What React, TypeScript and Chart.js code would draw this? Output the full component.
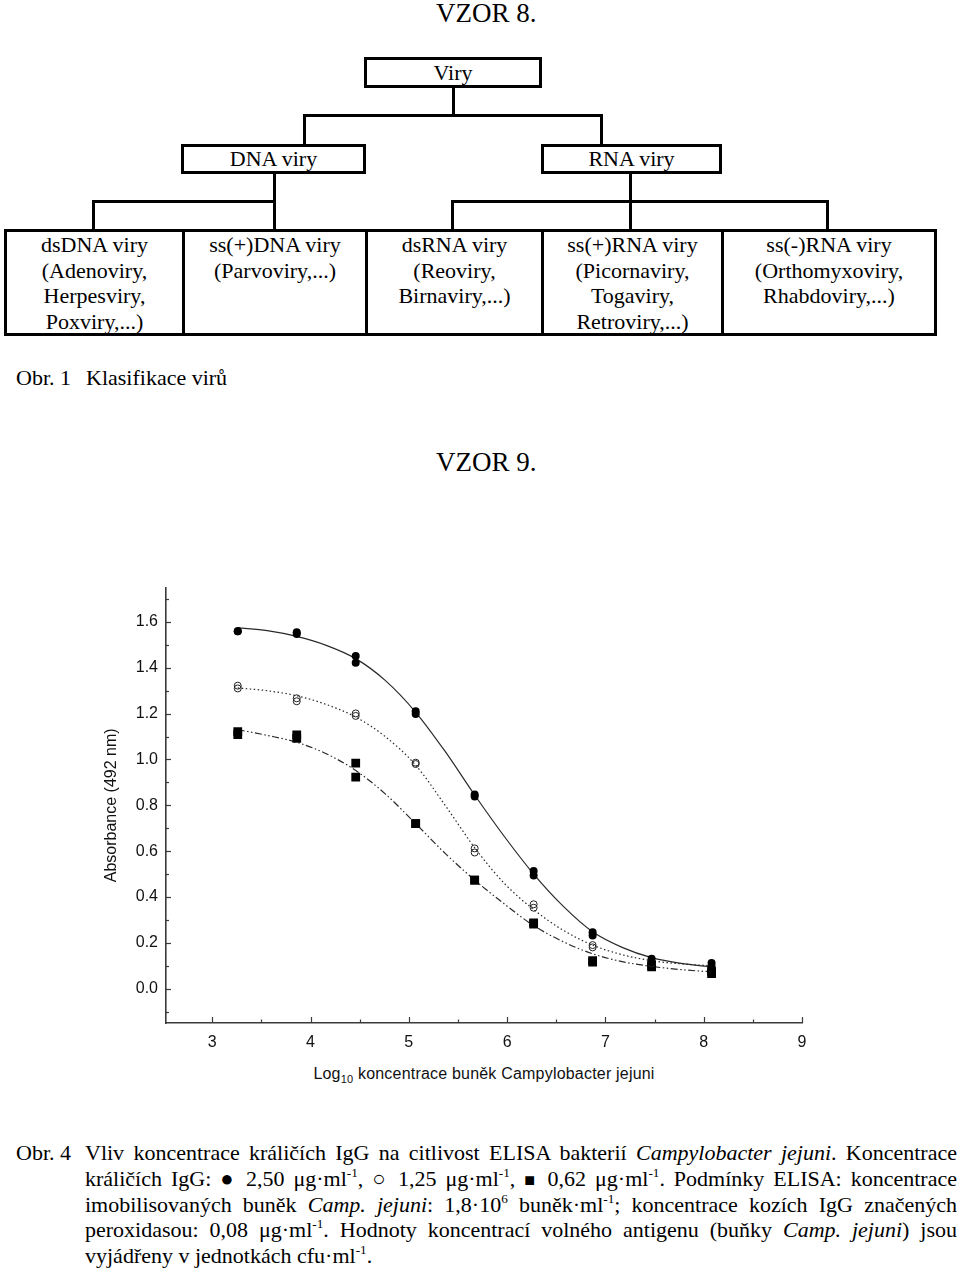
import React, { useEffect, useRef } from 'react';
import { Chart, registerables } from 'chart.js';

Chart.register(...registerables);

// ---------- data ----------
const X_DOSES = [3.26, 3.86, 4.46, 5.07, 5.67, 6.27, 6.87, 7.47, 8.08];

const FILLED_REP1 = [1.56, 1.555, 1.452, 1.21, 0.847, 0.513, 0.246, 0.13, 0.112];
const FILLED_REP2 = [1.56, 1.548, 1.422, 1.198, 0.838, 0.494, 0.232, 0.115, 0.088];

const OPEN_REP1 = [1.322, 1.267, 1.201, 0.986, 0.612, 0.368, 0.19, 0.115, 0.1];
const OPEN_REP2 = [1.31, 1.254, 1.19, 0.98, 0.594, 0.353, 0.18, 0.11, 0.095];

const SQUARE_REP1 = [1.122, 1.107, 0.984, 0.72, 0.473, 0.287, 0.122, 0.102, 0.075];
const SQUARE_REP2 = [1.108, 1.092, 0.923, 0.72, 0.473, 0.282, 0.116, 0.095, 0.066];

const CURVE_X = [3.26, 3.56, 3.86, 4.16, 4.46, 4.76, 5.07, 5.37, 5.67, 5.97, 6.27, 6.57, 6.87, 7.17, 7.47, 7.77, 8.08];
const CURVE_FILLED = [1.575, 1.562, 1.537, 1.498, 1.44, 1.345, 1.206, 1.035, 0.845, 0.665, 0.5, 0.36, 0.248, 0.18, 0.135, 0.11, 0.095];
const CURVE_OPEN = [1.312, 1.3, 1.278, 1.24, 1.185, 1.1, 0.975, 0.8, 0.615, 0.46, 0.345, 0.255, 0.19, 0.148, 0.122, 0.108, 0.1];
const CURVE_SQUARE = [1.13, 1.105, 1.075, 1.025, 0.952, 0.85, 0.72, 0.59, 0.474, 0.37, 0.275, 0.205, 0.152, 0.118, 0.097, 0.083, 0.073];

const X_TICKS = [3, 4, 5, 6, 7, 8, 9];
const X_MINOR = [3.5, 4.5, 5.5, 6.5, 7.5, 8.5];
const Y_TICKS = [0, 0.2, 0.4, 0.6, 0.8, 1.0, 1.2, 1.4, 1.6];
const Y_MINOR = [-0.1, 0.1, 0.3, 0.5, 0.7, 0.9, 1.1, 1.3, 1.5, 1.7];

const Y_TITLE = 'Absorbance (492 nm)';

const SANS = '"Liberation Sans", Arial, sans-serif';
const SERIF = '"Liberation Serif", "Times New Roman", serif';
const AXIS_COLOR = '#3a3a3a';
const CURVE_COLOR = '#2a2a2a';

const pairs = (xs: number[], a: number[], b: number[]) =>
  xs.flatMap((x, i) => [{ x, y: a[i] }, { x, y: b[i] }]);
const curve = (ys: number[]) => CURVE_X.map((x, i) => ({ x, y: ys[i] }));

const innerTicks = {
  id: 'innerTicks',
  afterDraw(chart: any) {
    const { ctx, chartArea, scales } = chart;
    const xs = scales.x;
    const ys = scales.y;
    ctx.save();
    ctx.strokeStyle = AXIS_COLOR;
    ctx.lineWidth = 1.2;
    const seg = (x1: number, y1: number, x2: number, y2: number) => {
      ctx.beginPath();
      ctx.moveTo(x1, y1);
      ctx.lineTo(x2, y2);
      ctx.stroke();
    };
    Y_TICKS.forEach((v) => {
      const y = Math.round(ys.getPixelForValue(v)) + 0.5;
      seg(chartArea.left, y, chartArea.left + 5, y);
    });
    Y_MINOR.forEach((v) => {
      const y = Math.round(ys.getPixelForValue(v)) + 0.5;
      seg(chartArea.left, y, chartArea.left + 3, y);
    });
    X_TICKS.forEach((v) => {
      const x = Math.round(xs.getPixelForValue(v)) + 0.5;
      seg(x, chartArea.bottom, x, chartArea.bottom - 6);
    });
    X_MINOR.forEach((v) => {
      const x = Math.round(xs.getPixelForValue(v)) + 0.5;
      seg(x, chartArea.bottom, x, chartArea.bottom - 3.5);
    });
    ctx.restore();
  },
};

function ElisaChart() {
  const ref = useRef<HTMLCanvasElement | null>(null);
  useEffect(() => {
    if (!ref.current) return;
    const chart = new Chart(ref.current, {
      type: 'scatter',
      data: {
        datasets: [
          {
            label: '2,50',
            data: pairs(X_DOSES, FILLED_REP1, FILLED_REP2),
            pointStyle: 'circle',
            pointRadius: 4,
            backgroundColor: '#000',
            borderColor: '#000',
            borderWidth: 0,
            showLine: false,
          },
          {
            label: '1,25',
            data: pairs(X_DOSES, OPEN_REP1, OPEN_REP2),
            pointStyle: 'circle',
            pointRadius: 3.5,
            backgroundColor: 'rgba(255,255,255,0)',
            borderColor: '#222',
            borderWidth: 1,
            showLine: false,
          },
          {
            label: '0,62',
            data: pairs(X_DOSES, SQUARE_REP1, SQUARE_REP2),
            pointStyle: 'rect',
            pointRadius: 6.2,
            backgroundColor: '#000',
            borderColor: '#000',
            borderWidth: 0,
            showLine: false,
          },
          {
            label: 'fit 2,50',
            data: curve(CURVE_FILLED),
            showLine: true,
            pointRadius: 0,
            borderColor: CURVE_COLOR,
            borderWidth: 1.2,
            cubicInterpolationMode: 'monotone',
          },
          {
            label: 'fit 1,25',
            data: curve(CURVE_OPEN),
            showLine: true,
            pointRadius: 0,
            borderColor: CURVE_COLOR,
            borderWidth: 1.2,
            borderDash: [1.5, 2.5],
            cubicInterpolationMode: 'monotone',
          },
          {
            label: 'fit 0,62',
            data: curve(CURVE_SQUARE),
            showLine: true,
            pointRadius: 0,
            borderColor: CURVE_COLOR,
            borderWidth: 1.2,
            borderDash: [7, 2.5, 1.5, 2.5, 1.5, 2.5],
            cubicInterpolationMode: 'monotone',
          },
        ],
      },
      options: {
        animation: false,
        responsive: false,
        devicePixelRatio: 1,
        layout: { padding: { top: 16, right: 58, left: 0, bottom: 0 } },
        plugins: { legend: { display: false }, tooltip: { enabled: false } },
        scales: {
          x: {
            type: 'linear',
            min: 2.53,
            max: 9,
            grid: { display: false, drawTicks: false },
            border: { display: true, color: AXIS_COLOR, width: 1.6 },
            ticks: {
              font: { family: SANS, size: 16 },
              color: '#111',
              padding: 10,
              autoSkip: false,
              maxRotation: 0,
              callback: (v: any) => String(v),
            },
            afterBuildTicks: (s: any) => {
              s.ticks = X_TICKS.map((value) => ({ value }));
            },
            afterFit: (s: any) => {
              s.height = 37;
            },
          },
          y: {
            type: 'linear',
            min: -0.15,
            max: 1.75,
            grid: { display: false, drawTicks: false },
            border: { display: true, color: AXIS_COLOR, width: 1.6 },
            ticks: {
              font: { family: SANS, size: 16 },
              color: '#111',
              padding: 8,
              autoSkip: false,
              callback: (v: any) => Number(v).toFixed(1),
            },
            title: {
              display: true,
              text: Y_TITLE,
              font: { family: SANS, size: 16 },
              color: '#111',
              padding: { top: 42, bottom: 0 },
            },
            afterBuildTicks: (s: any) => {
              s.ticks = Y_TICKS.map((value) => ({ value }));
            },
            afterFit: (s: any) => {
              s.width = 106;
            },
          },
        },
      },
      plugins: [innerTicks],
    } as any);
    return () => chart.destroy();
  }, []);
  return (
    <canvas
      ref={ref}
      width={800}
      height={490}
      style={{ position: 'absolute', left: 60, top: 570, width: 800, height: 490 }}
    />
  );
}

const LINE = 3;
const lineStyle = (left: number, top: number, width: number, height: number): React.CSSProperties => ({
  position: 'absolute',
  left,
  top,
  width,
  height,
  background: '#000',
});

const boxText: React.CSSProperties = {
  position: 'absolute',
  boxSizing: 'border-box',
  border: `${LINE}px solid #000`,
  fontFamily: SERIF,
  fontSize: 22,
  textAlign: 'center',
  color: '#000',
  background: '#fff',
};

const BOTTOM_CELLS = [
  { left: 4, right: 182, lines: ['dsDNA viry', '(Adenoviry,', 'Herpesviry,', 'Poxviry,...)'] },
  { left: 182, right: 365, lines: ['ss(+)DNA viry', '(Parvoviry,...)'] },
  { left: 365, right: 541, lines: ['dsRNA viry', '(Reoviry,', 'Birnaviry,...)'] },
  { left: 541, right: 721, lines: ['ss(+)RNA viry', '(Picornaviry,', 'Togaviry,', 'Retroviry,...)'] },
  { left: 721, right: 934, lines: ['ss(-)RNA viry', '(Orthomyxoviry,', 'Rhabdoviry,...)'] },
];

const Sup = ({ children }: { children: React.ReactNode }) => (
  <sup style={{ fontSize: '0.6em', lineHeight: 0, verticalAlign: '0.7em' }}>{children}</sup>
);

const justifyLine: React.CSSProperties = {
  position: 'absolute',
  left: 85,
  width: 872,
  height: 26,
  lineHeight: '26px',
  textAlign: 'justify',
  textAlignLast: 'justify' as any,
  whiteSpace: 'nowrap',
};

const CAP_TOP = 1140;

export default function App() {
  return (
    <div
      style={{
        position: 'absolute',
        left: 0,
        top: 0,
        width: 960,
        height: 1276,
        overflow: 'hidden',
        background: '#fff',
        fontFamily: SERIF,
        color: '#000',
      }}
    >
      <div style={{ position: 'absolute', left: 436, top: 0, fontSize: 27, lineHeight: '27px' }}>VZOR 8.</div>

      {/* tree */}
      <div style={{ ...boxText, left: 364, top: 57, width: 178, height: 31, lineHeight: '25px' }}>Viry</div>
      <div style={lineStyle(452, 88, LINE, 28)} />
      <div style={lineStyle(303, 114, 300, LINE)} />
      <div style={lineStyle(303, 114, LINE, 31)} />
      <div style={lineStyle(600, 114, LINE, 31)} />

      <div style={{ ...boxText, left: 181, top: 144, width: 185, height: 30, lineHeight: '24px' }}>DNA viry</div>
      <div style={{ ...boxText, left: 541, top: 144, width: 181, height: 30, lineHeight: '24px' }}>RNA viry</div>

      <div style={lineStyle(273, 174, LINE, 56)} />
      <div style={lineStyle(92, 200, 184, LINE)} />
      <div style={lineStyle(92, 200, LINE, 30)} />

      <div style={lineStyle(629, 174, LINE, 56)} />
      <div style={lineStyle(451, 200, 378, LINE)} />
      <div style={lineStyle(451, 200, LINE, 30)} />
      <div style={lineStyle(826, 200, LINE, 30)} />

      {BOTTOM_CELLS.map((c, i) => (
        <div
          key={i}
          style={{
            ...boxText,
            background: 'transparent',
            left: c.left,
            top: 229,
            width: c.right - c.left + LINE,
            height: 107,
            lineHeight: '25.5px',
          }}
        >
          {c.lines.map((l, j) => (
            <div key={j}>{l}</div>
          ))}
        </div>
      ))}

      <div style={{ position: 'absolute', left: 16, top: 367, fontSize: 22, lineHeight: '22px' }}>Obr. 1</div>
      <div style={{ position: 'absolute', left: 86, top: 367, fontSize: 22, lineHeight: '22px' }}>Klasifikace virů</div>

      <div style={{ position: 'absolute', left: 436, top: 449, fontSize: 27, lineHeight: '27px' }}>VZOR 9.</div>

      <ElisaChart />

      <div
        style={{
          position: 'absolute',
          left: 0,
          width: 968,
          top: 1064,
          textAlign: 'center',
          fontFamily: SANS,
          fontSize: 16,
          lineHeight: '20px',
          letterSpacing: '0.2px',
          color: '#111',
        }}
      >
        Log<sub style={{ fontSize: 11, lineHeight: 0 }}>10</sub> koncentrace buněk Campylobacter jejuni
      </div>

      {/* caption */}
      <div style={{ fontSize: 22 }}>
        <div style={{ position: 'absolute', left: 16, top: CAP_TOP, lineHeight: '26px' }}>Obr. 4</div>
        <div style={{ ...justifyLine, top: CAP_TOP }}>
          Vliv koncentrace králičích IgG na citlivost ELISA bakterií <i>Campylobacter jejuni</i>. Koncentrace
        </div>
        <div style={{ ...justifyLine, top: CAP_TOP + 26 }}>
          králičích IgG: <span style={{ fontSize: 22, lineHeight: 0 }}>●</span> 2,50 μg·ml<Sup>-1</Sup>,{' '}
          <span style={{ fontSize: 22, lineHeight: 0 }}>○</span> 1,25 μg·ml<Sup>-1</Sup>,{' '}
          <span style={{ fontSize: 18, lineHeight: 0 }}>■</span> 0,62 μg·ml<Sup>-1</Sup>. Podmínky ELISA: koncentrace
        </div>
        <div style={{ ...justifyLine, top: CAP_TOP + 51.5 }}>
          imobilisovaných buněk <i>Camp. jejuni</i>: 1,8·10<Sup>6</Sup> buněk·ml<Sup>-1</Sup>; koncentrace kozích IgG
          značených
        </div>
        <div style={{ ...justifyLine, top: CAP_TOP + 77 }}>
          peroxidasou: 0,08 μg·ml<Sup>-1</Sup>. Hodnoty koncentrací volného antigenu (buňky <i>Camp. jejuni</i>) jsou
        </div>
        <div style={{ ...justifyLine, top: CAP_TOP + 103, textAlignLast: 'left' as any }}>
          vyjádřeny v jednotkách cfu·ml<Sup>-1</Sup>.
        </div>
      </div>
    </div>
  );
}
